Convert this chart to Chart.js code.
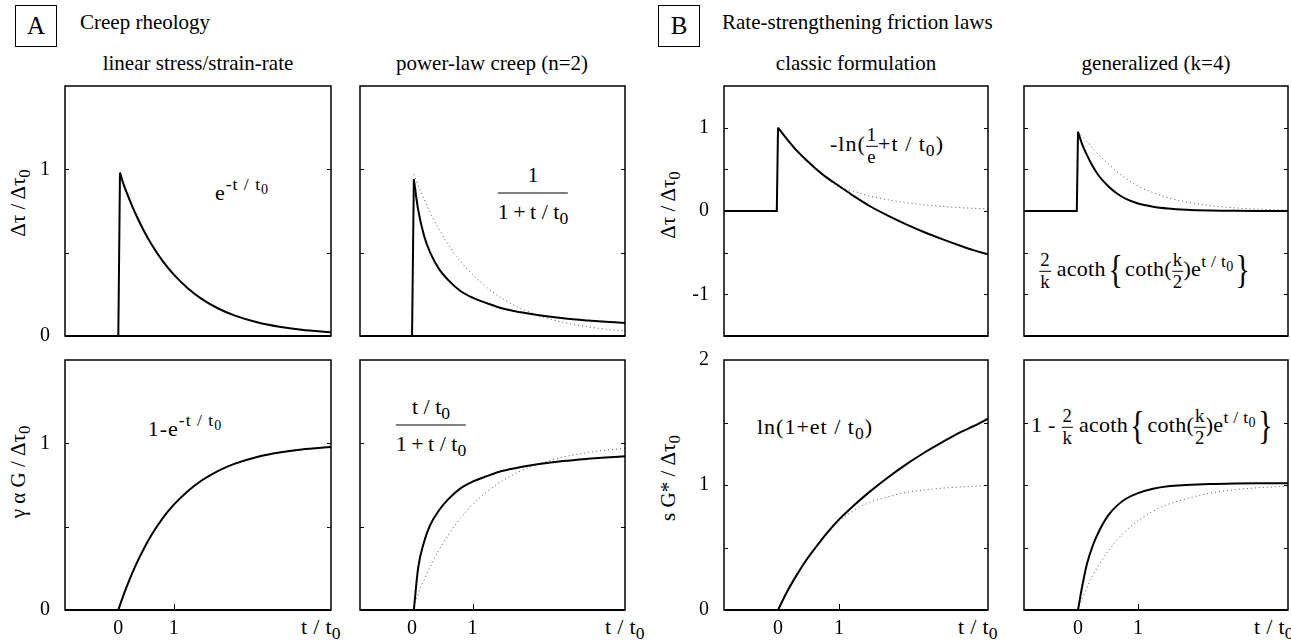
<!DOCTYPE html>
<html><head><meta charset="utf-8">
<script src="https://cdn.jsdelivr.net/npm/chart.js@4.4.1/dist/chart.umd.min.js"></script>
<style>
html,body{margin:0;padding:0;background:#fff;}
#wrap{position:relative;width:1291px;height:641px;overflow:hidden;font-family:'Liberation Serif','Tinos','Noto Serif','DejaVu Serif',serif;color:#000;background:#fff;}
canvas{position:absolute;}
.t{position:absolute;white-space:nowrap;font-size:21px;line-height:1;}
.m{font-size:22px;letter-spacing:1px;}
.m0{letter-spacing:0;}
.m3{letter-spacing:0.3px;}
.c{transform:translate(-50%,-50%);}
.l{transform:translate(0,-50%);}
.rot{transform:translate(-50%,-50%) rotate(-90deg);font-size:21px;}
.box{position:absolute;border:1px solid #000;width:42px;height:42px;font-size:25px;display:flex;align-items:center;justify-content:center;box-sizing:border-box;}
sup{font-size:0.8em;vertical-align:0.55em;line-height:0;}
sub{font-size:0.8em;vertical-align:-0.3em;line-height:0;}
.fr{display:inline-flex;flex-direction:column;align-items:center;vertical-align:middle;}
.fr>span:first-child{padding:0 0 7px;}
.fr>span:last-child{border-top:1px solid #000;padding:7px 0 0;}
.fs{display:inline-flex;flex-direction:column;align-items:center;vertical-align:middle;font-size:0.85em;}
.fs>span:first-child{padding:0 1px 1px;}
.fs>span:last-child{border-top:1px solid #000;padding:1px 1px 0;}
.br{display:inline-block;font-size:1.8em;line-height:0.8;vertical-align:-0.18em;transform:scaleX(0.75);}
</style></head>
<body>
<div id="wrap">
  <div class="box" style="left:15px;top:5px;">A</div>
  <div class="t l" style="left:80px;top:22px;">Creep rheology</div>
  <div class="box" style="left:658px;top:5px;">B</div>
  <div class="t l" style="left:722px;top:22px;">Rate-strengthening friction laws</div>

  <div class="t c" style="left:198px;top:63px;">linear stress/strain-rate</div>
  <div class="t c" style="left:492px;top:63px;">power-law creep (n=2)</div>
  <div class="t c" style="left:856px;top:63px;">classic formulation</div>
  <div class="t c" style="left:1156px;top:63px;">generalized (k=4)</div>

  <div class="t rot" style="left:18px;top:203px;">Δτ / Δτ<sub>0</sub></div>
  <div class="t rot" style="left:18px;top:472px;">γ α G / Δτ<sub>0</sub></div>
  <div class="t rot" style="left:668px;top:205px;">Δτ / Δτ<sub>0</sub></div>
  <div class="t rot" style="left:668px;top:478px;">s G* / Δτ<sub>0</sub></div>

  <div class="t c m m3" style="left:321px;top:627px;">t / t<sub>0</sub></div>
  <div class="t c m m3" style="left:625px;top:627px;">t / t<sub>0</sub></div>
  <div class="t c m m3" style="left:978px;top:627px;">t / t<sub>0</sub></div>
  <div class="t c m m3" style="left:1274px;top:627px;">t / t<sub>0</sub></div>

  <div class="t c m" style="left:242px;top:193px;">e<sup>-t / t<sub>0</sub></sup></div>
  <div class="t c m" style="left:185px;top:429px;">1-e<sup>-t / t<sub>0</sub></sup></div>
  <div class="t c m m0" style="left:533px;top:193px;"><span class="fr"><span>1</span><span>1&thinsp;+&thinsp;t / t<sub>0</sub></span></span></div>
  <div class="t c m m0" style="left:431px;top:425px;"><span class="fr"><span>t / t<sub>0</sub></span><span>1&thinsp;+&thinsp;t / t<sub>0</sub></span></span></div>
  <div class="t c m" style="left:887px;top:146px;">-ln(<span class="fs"><span>1</span><span>e</span></span>+t / t<sub>0</sub>)</div>
  <div class="t c m" style="left:815px;top:427px;">ln(1+et / t<sub>0</sub>)</div>
  <div class="t c m m3" style="left:1146px;top:271px;"><span class="fs"><span>2</span><span>k</span></span> acoth<span class="br">{</span>coth(<span class="fs"><span>k</span><span>2</span></span>)e<sup>t / t<sub>0</sub></sup><span class="br">}</span></div>
  <div class="t c m m3" style="left:1153px;top:427px;">1 - <span class="fs"><span>2</span><span>k</span></span> acoth<span class="br">{</span>coth(<span class="fs"><span>k</span><span>2</span></span>)e<sup>t / t<sub>0</sub></sup><span class="br">}</span></div>
</div>
<script>
// ---------- data ----------
// Panel A, linear stress/strain-rate
const stepA1X = [-0.96, 0, 0.03];
const stepA1Y = [0, 0, 0.98];
const tA1 = [0.03, 0.1, 0.2, 0.3, 0.45, 0.6, 0.8, 1.0, 1.25, 1.5, 1.8, 2.1, 2.5, 2.9, 3.3, 3.83];
const vA1 = [0.98, 0.905, 0.82, 0.741, 0.638, 0.549, 0.449, 0.368, 0.287, 0.223, 0.165, 0.122, 0.082, 0.055, 0.037, 0.022];
const flatA3X = [-0.96, 0];
const flatA3Y = [0, 0];
const tA3 = [0, 0.1, 0.2, 0.3, 0.45, 0.6, 0.8, 1.0, 1.25, 1.5, 1.8, 2.1, 2.5, 2.9, 3.3, 3.83];
const vA3 = [0, 0.095, 0.181, 0.259, 0.362, 0.451, 0.551, 0.632, 0.713, 0.777, 0.835, 0.878, 0.918, 0.945, 0.963, 0.978];

// Panel A, power-law creep (n=2)
const stepA2X = [-0.86, 0, 0.03];
const stepA2Y = [0, 0, 0.94];
const tA2 = [0.03, 0.1, 0.2, 0.3, 0.45, 0.6, 0.8, 1.0, 1.25, 1.5, 1.8, 2.1, 2.5, 2.9, 3.2, 3.52];
const vA2 = [0.94, 0.76, 0.6, 0.5, 0.4, 0.335, 0.27, 0.23, 0.195, 0.165, 0.142, 0.124, 0.106, 0.093, 0.085, 0.078];
const dA2 = [0.97, 0.905, 0.82, 0.741, 0.638, 0.549, 0.449, 0.368, 0.287, 0.223, 0.165, 0.122, 0.082, 0.055, 0.041, 0.03];
const flatA4X = [-0.86, 0.03];
const flatA4Y = [0, 0];
const vA4 = [0, 0.25, 0.41, 0.51, 0.6, 0.665, 0.73, 0.77, 0.805, 0.835, 0.858, 0.876, 0.894, 0.907, 0.915, 0.922];
const dA4 = [0.02, 0.095, 0.18, 0.259, 0.362, 0.451, 0.551, 0.632, 0.713, 0.777, 0.835, 0.878, 0.918, 0.945, 0.959, 0.97];

// Panel B, classic formulation
const stepB1X = [-0.885, -0.02, 0];
const stepB1Y = [0, 0, 1.0];
const tB1 = [0, 0.15, 0.3, 0.45, 0.6, 0.8, 1.0, 1.25, 1.5, 1.8, 2.1, 2.4, 2.7, 3.0, 3.2, 3.44];
const vB1 = [1.0, 0.86, 0.73, 0.62, 0.52, 0.4, 0.3, 0.175, 0.06, -0.055, -0.16, -0.255, -0.34, -0.42, -0.47, -0.52];
const dB1 = [1.0, 0.85, 0.72, 0.61, 0.51, 0.39, 0.29, 0.235, 0.18, 0.135, 0.1, 0.075, 0.055, 0.04, 0.032, 0.025];
const flatB3X = [-0.885, 0];
const flatB3Y = [0, 0];
const vB3 = [0, 0.148, 0.275, 0.39, 0.49, 0.615, 0.725, 0.84, 0.945, 1.06, 1.165, 1.26, 1.345, 1.425, 1.47, 1.53];
const dB3 = [0, 0.148, 0.275, 0.385, 0.485, 0.605, 0.71, 0.8, 0.86, 0.905, 0.94, 0.96, 0.975, 0.985, 0.99, 0.995];

// Panel B, generalized (k=4)
const stepB2X = [-0.9, -0.02, 0];
const stepB2Y = [0, 0, 0.95];
const tB2 = [0, 0.07, 0.15, 0.25, 0.35, 0.5, 0.65, 0.8, 1.0, 1.25, 1.5, 1.8, 2.2, 2.6, 3.0, 3.5];
const vB2 = [0.95, 0.8, 0.67, 0.53, 0.42, 0.3, 0.21, 0.145, 0.09, 0.052, 0.03, 0.015, 0.006, 0.003, 0.001, 0];
const dB2 = [0.95, 0.9, 0.83, 0.75, 0.67, 0.57, 0.47, 0.39, 0.3, 0.22, 0.16, 0.11, 0.065, 0.038, 0.022, 0.01];
const flatB4X = [-0.9, 0];
const flatB4Y = [0, 0];
const vB4 = [0, 0.19, 0.37, 0.52, 0.63, 0.755, 0.835, 0.89, 0.935, 0.97, 0.99, 1.0, 1.008, 1.012, 1.014, 1.015];
const dB4 = [0, 0.09, 0.18, 0.28, 0.36, 0.47, 0.56, 0.635, 0.715, 0.79, 0.845, 0.89, 0.935, 0.962, 0.978, 0.99];

// tick labels
const xTickValues = [0, 1];
const yTickStep = 0.5;

// ---------- drawing ----------
const FONT = "'Liberation Serif','Tinos','Noto Serif','DejaVu Serif',serif";
Chart.defaults.font.family = FONT;
Chart.defaults.font.size = 20;
Chart.defaults.color = '#000';

function pts(xs, ys) { return xs.map((x, i) => ({ x: x, y: ys[i] })); }

const frame = {
  id: 'frame',
  afterDatasetsDraw(chart, args, opts) {
    const ctx = chart.ctx, a = chart.chartArea, x = chart.scales.x, y = chart.scales.y;
    ctx.save();
    ctx.strokeStyle = '#000';
    ctx.lineWidth = 1;
    const seg = (x1, y1, x2, y2) => { ctx.beginPath(); ctx.moveTo(x1, y1); ctx.lineTo(x2, y2); ctx.stroke(); };
    y.ticks.forEach(t => {
      if (t.value <= y.min || t.value >= y.max) return;
      const py = Math.round(y.getPixelForValue(t.value)) + 0.5;
      seg(a.left, py, a.left + 4, py);
      seg(a.right - 4, py, a.right, py);
    });
    if (opts.xTicks) {
      x.ticks.forEach(t => {
        if (t.value === 0) return;
        const px = Math.round(x.getPixelForValue(t.value)) + 0.5;
        seg(px, a.bottom, px, a.bottom - 6);
      });
    }
    ctx.lineWidth = 1.5;
    ctx.strokeRect(a.left, a.top, a.right - a.left, a.bottom - a.top);
    ctx.lineWidth = 2;
    seg(a.left, a.bottom, a.right, a.bottom);
    ctx.restore();
  }
};

const panels = [
  { box: [65, 86, 266, 250], xr: [-0.96, 3.83], yr: [0, 1.5], yLab: true, bottom: false,
    lines: [[stepA1X, stepA1Y]], curves: [[tA1, vA1]], dots: [] },
  { box: [360, 86, 265, 250], xr: [-0.86, 3.52], yr: [0, 1.5], yLab: false, bottom: false,
    lines: [[stepA2X, stepA2Y]], curves: [[tA2, vA2]], dots: [[tA2, dA2]] },
  { box: [724, 86, 264, 250], xr: [-0.885, 3.44], yr: [-1.5, 1.5], yLab: true, bottom: false,
    lines: [[stepB1X, stepB1Y]], curves: [[tB1, vB1]], dots: [[tB1, dB1]] },
  { box: [1024, 86, 264, 250], xr: [-0.9, 3.5], yr: [-1.5, 1.5], yLab: false, bottom: false,
    lines: [[stepB2X, stepB2Y]], curves: [[tB2, vB2]], dots: [[tB2, dB2]] },
  { box: [65, 360, 266, 250], xr: [-0.96, 3.83], yr: [0, 1.5], yLab: true, bottom: true,
    lines: [[flatA3X, flatA3Y]], curves: [[tA3, vA3]], dots: [] },
  { box: [360, 360, 265, 250], xr: [-0.86, 3.52], yr: [0, 1.5], yLab: false, bottom: true,
    lines: [[flatA4X, flatA4Y]], curves: [[tA2, vA4]], dots: [[tA2, dA4]] },
  { box: [724, 360, 264, 250], xr: [-0.885, 3.44], yr: [0, 2], yLab: true, bottom: true,
    lines: [[flatB3X, flatB3Y]], curves: [[tB1, vB3]], dots: [[tB1, dB3]] },
  { box: [1024, 360, 264, 250], xr: [-0.9, 3.5], yr: [0, 2], yLab: false, bottom: true,
    lines: [[flatB4X, flatB4Y]], curves: [[tB2, vB4]], dots: [[tB2, dB4]] }
];

const PAD_TOP = 20, PAD_BOT_TOP = 20, AXIS_W = 60, PAD_R = 10;
const wrap = document.getElementById('wrap');
panels.forEach(p => {
  const [L, T, W, H] = p.box;
  const xAxisH = p.bottom ? 40 : PAD_BOT_TOP;
  const cw = W + AXIS_W + PAD_R, ch = H + PAD_TOP + xAxisH;
  const cv = document.createElement('canvas');
  cv.width = cw; cv.height = ch;
  cv.style.left = (L - AXIS_W) + 'px'; cv.style.top = (T - PAD_TOP) + 'px';
  cv.style.width = cw + 'px'; cv.style.height = ch + 'px';
  wrap.appendChild(cv);
  const ds = [];
  p.dots.forEach(d => ds.push({ data: pts(d[0], d[1]), borderColor: '#555', borderWidth: 1, borderDash: [1, 3],
    pointRadius: 0, cubicInterpolationMode: 'monotone', order: 3 }));
  p.curves.forEach(d => ds.push({ data: pts(d[0], d[1]), borderColor: '#000', borderWidth: 2,
    pointRadius: 0, cubicInterpolationMode: 'monotone', order: 1 }));
  p.lines.forEach(d => ds.push({ data: pts(d[0], d[1]), borderColor: '#000', borderWidth: 2,
    pointRadius: 0, tension: 0, borderJoinStyle: 'miter', order: 1 }));
  new Chart(cv, {
    type: 'line',
    data: { datasets: ds },
    options: {
      animation: false, responsive: false, devicePixelRatio: 1, events: [],
      layout: { padding: { top: PAD_TOP, right: PAD_R, left: 0, bottom: 0 } },
      plugins: { legend: { display: false }, tooltip: { enabled: false }, frame: { xTicks: p.bottom } },
      scales: {
        x: {
          type: 'linear', min: p.xr[0], max: p.xr[1],
          grid: { display: false, drawTicks: false }, border: { display: false },
          afterBuildTicks: s => { s.ticks = xTickValues.map(v => ({ value: v })); },
          ticks: { display: p.bottom, padding: 7, autoSkip: false, maxRotation: 0, callback: v => String(v) },
          afterFit: s => { s.height = xAxisH; s.paddingLeft = 0; s.paddingRight = 0; }
        },
        y: {
          type: 'linear', min: p.yr[0], max: p.yr[1],
          grid: { display: false, drawTicks: false }, border: { display: false },
          ticks: { display: p.yLab, stepSize: yTickStep, padding: 15, autoSkip: false,
            callback: v => Number.isInteger(v) ? String(v) : '' },
          afterFit: s => { s.width = AXIS_W; s.paddingTop = 0; s.paddingBottom = 0; }
        }
      }
    },
    plugins: [frame]
  });
});
</script>
</body></html>
